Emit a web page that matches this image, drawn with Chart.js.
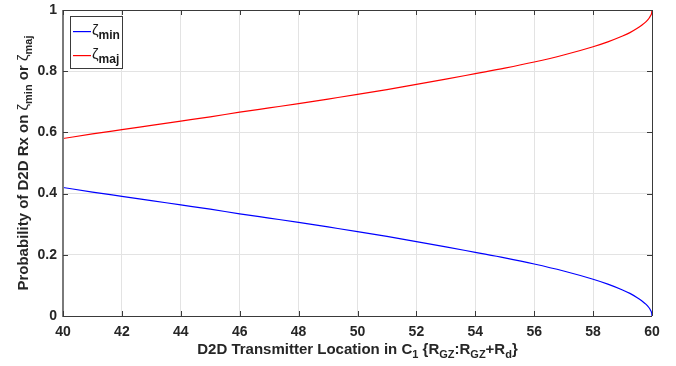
<!DOCTYPE html>
<html>
<head>
<meta charset="utf-8">
<script src="https://cdn.jsdelivr.net/npm/chart.js@4"></script>
<style>
  html, body { margin: 0; padding: 0; background: #ffffff; }
  #wrap { width: 676px; height: 366px; }
</style>
</head>
<body>
<div id="wrap"><canvas id="c" width="676" height="366"></canvas></div>
<script>
// Transmitter location along C1 (from R_GZ to R_GZ + R_d)
const txLocation = [40, 41, 42, 43, 44, 45, 46, 47, 48, 49, 50, 51, 52, 53, 54, 55, 56, 57, 58, 58.5, 59, 59.25, 59.5, 59.65, 59.8, 59.9, 59.95, 59.99, 60];
// Probability that the D2D receiver lies on the minor arc
const zetaMin = [0.420, 0.405, 0.391, 0.377, 0.363, 0.349, 0.334, 0.320, 0.306, 0.291, 0.276, 0.260, 0.243, 0.226, 0.208, 0.190, 0.170, 0.147, 0.120, 0.104, 0.085, 0.074, 0.060, 0.050, 0.038, 0.027, 0.019, 0.009, 0.000];
// Probability that the D2D receiver lies on the major arc
const zetaMaj = [0.580, 0.595, 0.609, 0.623, 0.637, 0.651, 0.666, 0.680, 0.694, 0.709, 0.724, 0.740, 0.757, 0.774, 0.792, 0.810, 0.830, 0.853, 0.880, 0.896, 0.915, 0.926, 0.940, 0.950, 0.962, 0.973, 0.981, 0.991, 1.000];

const xTicks = [40, 42, 44, 46, 48, 50, 52, 54, 56, 58, 60];
const yTicks = [0, 0.2, 0.4, 0.6, 0.8, 1];

const FONT = '"Liberation Sans", Arial, Helvetica, sans-serif';

const toPoints = (xs, ys) => xs.map((x, i) => ({ x: x, y: ys[i] }));

// Draws a run of text pieces, some of them lowered as subscripts
function drawRich(ctx, parts, x, y, align) {
  const measure = p => { ctx.font = p.font; return ctx.measureText(p.t).width; };
  const total = parts.reduce((s, p) => s + measure(p), 0);
  let cx = align === 'center' ? x - total / 2 : x;
  ctx.textBaseline = 'alphabetic';
  ctx.textAlign = 'left';
  parts.forEach(p => {
    ctx.font = p.font;
    ctx.fillText(p.t, cx, y + (p.sub ? 4 : 0));
    cx += ctx.measureText(p.t).width;
  });
}

const B15 = 'bold 15px ' + FONT;
const N15 = '15px ' + FONT;
const SUB = 'bold 11px ' + FONT;

const xTitle = [
  { t: 'D2D Transmitter Location in C', font: B15 },
  { t: '1', font: SUB, sub: true },
  { t: ' {R', font: B15 },
  { t: 'GZ', font: SUB, sub: true },
  { t: ':R', font: B15 },
  { t: 'GZ', font: SUB, sub: true },
  { t: '+R', font: B15 },
  { t: 'd', font: SUB, sub: true },
  { t: '}', font: B15 }
];
const yTitle = [
  { t: 'Probability of D2D Rx on ', font: B15 },
  { t: 'ζ', font: N15 },
  { t: 'min', font: SUB, sub: true },
  { t: ' or ', font: B15 },
  { t: 'ζ', font: N15 },
  { t: 'maj', font: SUB, sub: true }
];

const seriesColors = { min: '#0000ff', maj: '#ff0000' };

const frame = {
  id: 'frame',
  afterDraw(chart) {
    const { ctx, chartArea: a, scales } = chart;
    const xs = scales.x, ys = scales.y;
    ctx.save();
    // axes box
    ctx.strokeStyle = '#3a3a3a';
    ctx.lineWidth = 1;
    ctx.beginPath();
    ctx.moveTo(a.left, a.top + 0.5); ctx.lineTo(a.right, a.top + 0.5);
    ctx.moveTo(a.right + 0.5, a.top); ctx.lineTo(a.right + 0.5, a.bottom);
    ctx.moveTo(a.left, a.bottom + 0.5); ctx.lineTo(a.right, a.bottom + 0.5);
    ctx.stroke();
    ctx.strokeStyle = '#7a7a7a';
    ctx.lineWidth = 2;
    ctx.beginPath();
    ctx.moveTo(a.left, a.top); ctx.lineTo(a.left, a.bottom + 1);
    ctx.stroke();
    // inward tick marks on all four sides
    ctx.strokeStyle = '#3a3a3a';
    ctx.lineWidth = 1;
    ctx.beginPath();
    xTicks.forEach(v => {
      const px = Math.round(xs.getPixelForValue(v)) + 0.5;
      ctx.moveTo(px, a.bottom); ctx.lineTo(px, a.bottom - 5);
      ctx.moveTo(px, a.top); ctx.lineTo(px, a.top + 5);
    });
    yTicks.forEach(v => {
      const py = Math.round(ys.getPixelForValue(v)) + 0.5;
      ctx.moveTo(a.left, py); ctx.lineTo(a.left + 5, py);
      ctx.moveTo(a.right, py); ctx.lineTo(a.right - 5, py);
    });
    ctx.stroke();

    // legend
    const lx = 70.5, ly = 16.5, lw = 52, lh = 52;
    ctx.fillStyle = '#ffffff';
    ctx.fillRect(lx, ly, lw, lh);
    ctx.strokeStyle = '#3a3a3a';
    ctx.lineWidth = 1;
    ctx.strokeRect(lx, ly, lw, lh);
    const entries = [
      { key: 'min', y: 31 },
      { key: 'maj', y: 55 }
    ];
    entries.forEach(e => {
      ctx.fillStyle = seriesColors[e.key];
      ctx.fillRect(73, e.y, 18, 1.2);
      ctx.fillStyle = '#1a1a1a';
      drawRich(ctx, [
        { t: 'ζ', font: '15px ' + FONT },
        { t: e.key, font: 'bold 12px ' + FONT, sub: true }
      ], 92, e.y + 4, 'left');
    });

    // axis titles
    ctx.fillStyle = '#262626';
    drawRich(ctx, xTitle, (a.left + a.right) / 2, 354, 'center');
    ctx.save();
    ctx.translate(28, (a.top + a.bottom) / 2);
    ctx.rotate(-Math.PI / 2);
    drawRich(ctx, yTitle, 0, 0, 'center');
    ctx.restore();
    ctx.restore();
  }
};

new Chart(document.getElementById('c'), {
  type: 'line',
  data: {
    datasets: [
      {
        label: 'ζmin',
        data: toPoints(txLocation, zetaMin),
        borderColor: seriesColors.min,
        borderWidth: 1.2,
        pointRadius: 0,
        cubicInterpolationMode: 'monotone'
      },
      {
        label: 'ζmaj',
        data: toPoints(txLocation, zetaMaj),
        borderColor: seriesColors.maj,
        borderWidth: 1.2,
        pointRadius: 0,
        cubicInterpolationMode: 'monotone'
      }
    ]
  },
  options: {
    responsive: false,
    animation: false,
    events: [],
    layout: { padding: { left: 0, right: 24, top: 10, bottom: 0 } },
    plugins: { legend: { display: false }, tooltip: { enabled: false } },
    scales: {
      x: {
        type: 'linear',
        min: 40, max: 60,
        afterBuildTicks: s => { s.ticks = xTicks.map(v => ({ value: v })); },
        afterFit: s => { s.height = 50; s.paddingLeft = 0; s.paddingRight = 0; },
        grid: { color: '#e3e3e3', lineWidth: 1, drawTicks: false },
        border: { display: false },
        ticks: {
          padding: 8,
          color: '#262626',
          font: { family: FONT, size: 14, weight: 'bold' },
          maxRotation: 0,
          callback: v => String(v)
        }
      },
      y: {
        type: 'linear',
        min: 0, max: 1,
        afterBuildTicks: s => { s.ticks = yTicks.map(v => ({ value: v })); },
        afterFit: s => { s.width = 63; s.paddingTop = 0; s.paddingBottom = 0; },
        grid: { color: '#e3e3e3', lineWidth: 1, drawTicks: false },
        border: { display: false },
        ticks: {
          padding: 6,
          color: '#262626',
          font: { family: FONT, size: 14, weight: 'bold' },
          callback: v => String(v)
        }
      }
    }
  },
  plugins: [frame]
});
</script>
</body>
</html>
